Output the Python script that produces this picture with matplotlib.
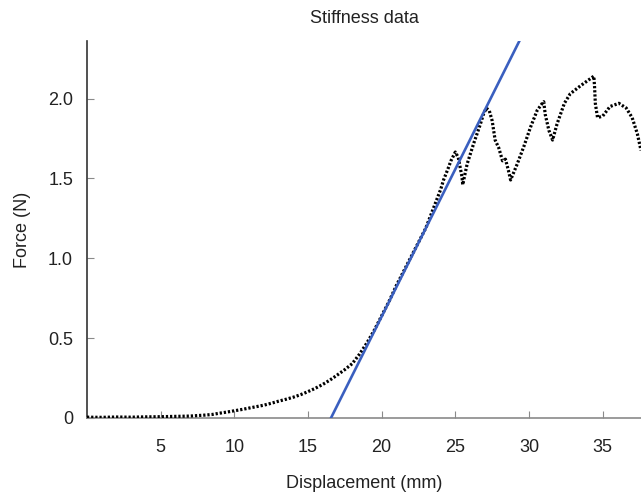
import numpy as np
import matplotlib.pyplot as plt

plt.rcParams['font.family'] = ['Liberation Sans', 'DejaVu Sans']

# Force-displacement readings
displacement = [0.0, 1.0, 2.0, 3.0, 4.0, 5.0, 6.0, 7.0, 8.0, 8.5, 9.0, 9.5, 10.0,
                10.5, 11.0, 11.5, 12.0, 12.5, 13.0, 13.5, 14.0, 14.5, 15.0, 15.5,
                16.0, 16.5, 17.0, 17.5, 18.0, 18.5, 19.0, 19.5, 20.0, 20.5, 21.0,
                21.5, 22.0, 22.5, 23.0, 23.5, 24.0, 24.2, 24.5, 24.7, 25.0, 25.2,
                25.45, 25.5, 25.8, 26.25, 26.7, 26.9, 27.1, 27.3, 27.5, 27.7,
                27.95, 28.2, 28.4, 28.6, 28.75, 29.2, 29.65, 30.1, 30.55, 30.9,
                31.0, 31.1, 31.35, 31.6, 31.9, 32.4, 32.8, 33.5, 34.1, 34.4,
                34.45, 34.5, 34.65, 35.0, 35.5, 36.1, 36.6, 37.0, 37.35, 37.6]
force = [0.005, 0.004, 0.006, 0.005, 0.007, 0.008, 0.010, 0.012, 0.018, 0.022,
         0.030, 0.037, 0.045, 0.053, 0.062, 0.071, 0.080, 0.092, 0.105, 0.117,
         0.130, 0.146, 0.165, 0.186, 0.210, 0.238, 0.270, 0.303, 0.340, 0.400,
         0.470, 0.550, 0.640, 0.730, 0.830, 0.920, 1.010, 1.100, 1.190, 1.310,
         1.430, 1.490, 1.560, 1.610, 1.665, 1.630, 1.510, 1.460, 1.590, 1.720,
         1.840, 1.900, 1.940, 1.925, 1.860, 1.740, 1.690, 1.610, 1.620, 1.550,
         1.490, 1.590, 1.700, 1.820, 1.925, 1.970, 1.980, 1.900, 1.800, 1.740,
         1.840, 1.970, 2.030, 2.080, 2.120, 2.140, 2.070, 1.970, 1.880, 1.890,
         1.950, 1.970, 1.940, 1.880, 1.780, 1.675]

# Linear stiffness fit: F = k * (d - d0)
stiffness = 0.1846   # N/mm
d0 = 16.56           # mm, x-intercept

x_ticks = [5, 10, 15, 20, 25, 30, 35]
y_ticks = [0, 0.5, 1.0, 1.5, 2.0]
y_tick_labels = ['0', '0.5', '1.0', '1.5', '2.0']

fig = plt.figure(figsize=(6.41, 4.97), dpi=100)
ax = fig.add_axes([0.1357, 0.159, 0.8643, 0.7585])

# dense dotted trace to mimic the sampled points
ax.plot(displacement, force, color='black', linestyle=(0, (0.7, 0.6)),
        linewidth=2.3, zorder=3)

fit_x = np.array([d0, 40.0])
ax.plot(fit_x, stiffness * (fit_x - d0), color='#3a5fbf', linewidth=1.9, zorder=4)

ax.set_xlim(0, 37.6)
ax.set_ylim(0, 2.36)
ax.set_xticks(x_ticks)
ax.set_yticks(y_ticks)
ax.set_yticklabels(y_tick_labels)

ax.spines['top'].set_visible(False)
ax.spines['right'].set_visible(False)
ax.spines['left'].set_color('#333333')
ax.spines['bottom'].set_color('#8a8a8a')
ax.spines['left'].set_linewidth(1.2)
ax.spines['bottom'].set_linewidth(1.2)

ax.tick_params(axis='x', direction='in', length=5, color='#8a8a8a',
               pad=15, labelsize=13, labelcolor='#222222')
ax.tick_params(axis='y', direction='in', length=5, color='#8a8a8a',
               pad=10, labelsize=13, labelcolor='#222222')

ax.set_title('Stiffness data', fontsize=13, color='#222222', pad=13)
ax.set_xlabel('Displacement (mm)', fontsize=13, color='#222222', labelpad=14)
ax.set_ylabel('Force (N)', fontsize=13, color='#222222', labelpad=12)

plt.savefig('out.png', dpi=100)
